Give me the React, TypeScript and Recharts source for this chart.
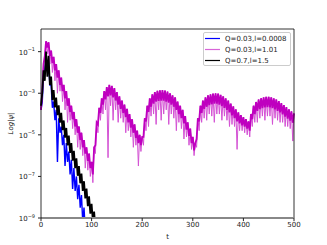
import { LineChart, Line, XAxis, YAxis, ReferenceLine } from 'recharts';

// values are log10(|psi|), sampled every STEP in t; "low" points sit half a step later
const STEP = 5;
const X_TICKS = [0, 100, 200, 300, 400, 500];
const Y_TICKS = [-9, -7, -5, -3, -1];
const Y_TOP = 0.09;

const magentaTop = [
  -3.8, -1.6, -0.5, -0.55, -0.95, -1.25, -1.6, -1.9, -2.25, -2.6,
  -2.9, -3.25, -3.6, -3.9, -4.25, -4.6, -4.9, -5.25, -5.6, -5.9,
  -6.3, -5.6, -4.4, -3.7, -3.25, -2.9, -2.7, -2.6, -2.65, -2.75,
  -2.95, -3.15, -3.35, -3.55, -3.75, -4.0, -4.25, -4.5, -4.8, -5.0,
  -5.1, -4.2, -3.6, -3.25, -3.05, -2.95, -2.88, -2.86, -2.85, -2.87,
  -2.92, -3.0, -3.1, -3.2, -3.4, -3.6, -3.8, -4.1, -4.4, -4.7,
  -5.1, -5.4, -4.2, -3.6, -3.35, -3.2, -3.1, -3.05, -3.02, -3.0,
  -3.02, -3.08, -3.15, -3.25, -3.35, -3.5, -3.63, -3.78, -3.92, -4.05,
  -4.15, -4.25, -4.35, -4.0, -3.6, -3.42, -3.3, -3.24, -3.2, -3.17,
  -3.17, -3.2, -3.25, -3.3, -3.38, -3.47, -3.57, -3.67, -3.77, -3.87,
  -3.97,
];
// lower edge of the solid magenta band
const magentaBand = [
  -2.9, -1.2, -0.8, -1.2, -1.55, -1.9, -2.25, -2.6, -2.9, -3.25,
  -3.6, -3.9, -4.25, -4.6, -4.9, -5.25, -5.6, -5.9, -6.25, -6.6,
  -6.9, -5.5, -4.5, -3.95, -3.55, -3.3, -3.15, -3.1, -3.2, -3.35,
  -3.55, -3.75, -3.95, -4.15, -4.4, -4.65, -4.9, -5.15, -5.4, -5.5,
  -5.1, -4.35, -3.9, -3.65, -3.5, -3.4, -3.37, -3.35, -3.35, -3.4,
  -3.45, -3.55, -3.65, -3.8, -4.0, -4.2, -4.45, -4.75, -5.05, -5.4,
  -5.75, -5.2, -4.35, -3.95, -3.75, -3.65, -3.57, -3.53, -3.5, -3.5,
  -3.55, -3.62, -3.7, -3.8, -3.92, -4.07, -4.2, -4.35, -4.45, -4.55,
  -4.6, -4.7, -4.8, -4.25, -4.0, -3.85, -3.77, -3.72, -3.68, -3.67,
  -3.68, -3.72, -3.78, -3.85, -3.92, -4.02, -4.12, -4.22, -4.32, -4.42,
];
// tips of the lighter downward spikes
const magentaSpike = [
  -3.0, -1.4, -1.1, -1.6, -2.0, -2.4, -3.0, -2.9, -3.4, -3.8,
  -4.4, -4.3, -4.7, -5.0, -5.6, -5.7, -6.0, -6.6, -6.7, -7.0,
  -7.3, -5.9, -4.9, -4.3, -4.0, -3.8, -6.1, -3.6, -4.3, -3.8,
  -4.4, -4.2, -4.4, -4.9, -4.8, -5.1, -5.6, -5.5, -6.5, -5.8,
  -5.5, -4.8, -4.6, -4.1, -4.0, -4.5, -3.8, -4.3, -4.0, -3.8,
  -4.5, -4.0, -4.2, -4.8, -4.4, -4.7, -5.2, -5.1, -5.5, -5.7,
  -6.0, -5.6, -4.8, -4.4, -4.2, -4.3, -4.0, -4.1, -4.4, -4.0,
  -4.0, -4.3, -4.1, -4.3, -4.6, -4.5, -4.6, -5.7, -4.8, -4.8,
  -4.9, -5.0, -5.1, -4.6, -4.4, -4.4, -4.2, -4.1, -4.3, -4.1,
  -4.1, -4.5, -4.2, -4.3, -4.4, -4.4, -4.6, -4.6, -4.7, -5.3,
];

const blackTop = [
  -3.6, -1.9, -1.0, -1.2, -2.2, -2.85, -3.21, -3.58, -3.94, -4.31,
  -4.67, -5.04, -5.4, -5.77, -6.13, -6.5, -6.86, -7.23, -7.59, -7.96,
  -8.32, -8.69, -9.05, -9.4,
];
const blackLow = [
  -3.0, -2.4, -2.2, -2.6, -3.32, -3.68, -4.05, -4.41, -4.78, -5.14,
  -5.51, -5.87, -6.24, -6.6, -6.97, -7.33, -7.7, -8.06, -8.43, -8.79,
  -9.16, -9.5, -9.6,
];

const blueTop = [
  -3.8, -2.1, -1.3, -1.5, -2.6, -3.4, -3.8, -4.2, -4.6, -5.0,
  -5.4, -5.8, -6.2, -6.6, -7.0, -7.4, -7.9, -8.5, -9.2,
];
const blueLow = [
  -3.4, -1.9, -1.7, -2.6, -3.7, -4.3, -6.3, -4.9, -5.5, -6.5,
  -6.3, -6.9, -7.6, -7.7, -8.1, -8.5, -9.2, -9.6,
];

const LEGEND = [
  { name: 'Q=0.03,l=0.0008', color: '#0000ff' },
  { name: 'Q=0.03,l=1.01', color: '#d865d8' },
  { name: 'Q=0.7,l=1.5', color: '#000000' },
];

// draw order follows matplotlib: blue, magenta (spikes then band), black on top
const LAYERS = [
  { key: 'blue', color: '#0000ff', width: 1.4, top: blueTop, low: blueLow },
  { key: 'magenta-spikes', color: '#d452d4', width: 1, top: magentaTop, low: magentaSpike },
  { key: 'magenta-band', color: '#bf00bf', width: 1.8, top: magentaTop, low: magentaBand },
  { key: 'black', color: '#000000', width: 1.8, top: blackTop, low: blackLow },
];

function zigzag(top: number[], low: number[]) {
  const pts: { t: number; v: number }[] = [];
  top.forEach((v, i) => {
    pts.push({ t: i * STEP, v });
    if (i < low.length) pts.push({ t: i * STEP + STEP / 2, v: low[i] });
  });
  return pts;
}

const FONT = 'DejaVu Sans, sans-serif';

function PowTick({ x, y, payload }: any) {
  return (
    <text x={x - 1} y={y + 3} textAnchor="end" fontSize={7} fill="#222" fontFamily={FONT}>
      10
      <tspan fontSize={5} dy={-3.5}>{'\u2212' + Math.abs(payload.value)}</tspan>
    </text>
  );
}

function YLabel({ viewBox }: any) {
  const cy = viewBox.y + viewBox.height / 2;
  const cx = viewBox.x + 11;
  return (
    <text
      x={cx}
      y={cy}
      transform={`rotate(-90 ${cx} ${cy})`}
      textAnchor="middle"
      dominantBaseline="central"
      fontSize={7}
      fontStyle="italic"
      fill="#222"
      fontFamily={FONT}
    >
      Log|ψ|
    </text>
  );
}

export default function App() {
  return (
    <div style={{ position: 'absolute', left: 0, top: 0, width: 327, height: 245, background: '#fff' }}>
      <LineChart width={327} height={245} margin={{ top: 29, right: 33, bottom: 0, left: 0 }}>
        <XAxis
          type="number"
          dataKey="t"
          domain={[0, 500]}
          ticks={X_TICKS}
          height={27}
          tickSize={3}
          tickMargin={1}
          tick={{ fontSize: 7, fill: '#222', fontFamily: FONT }}
          axisLine={{ stroke: '#888', strokeWidth: 2 }}
          tickLine={{ stroke: '#222' }}
          label={{ value: 't', position: 'insideBottom', offset: 6, fontSize: 7, fill: '#222', fontFamily: FONT }}
        />
        <YAxis
          type="number"
          domain={[-9, Y_TOP]}
          allowDataOverflow
          ticks={Y_TICKS}
          width={41}
          tickSize={3}
          tick={<PowTick />}
          axisLine={{ stroke: '#000', strokeWidth: 0.8 }}
          tickLine={{ stroke: '#222' }}
          label={<YLabel />}
        />
        {LAYERS.map(s => (
          <Line
            key={s.key}
            data={zigzag(s.top, s.low)}
            dataKey="v"
            stroke={s.color}
            strokeWidth={s.width}
            strokeLinejoin="miter"
            dot={false}
            isAnimationActive={false}
          />
        ))}
        <ReferenceLine y={Y_TOP} stroke="#000" strokeWidth={0.8} />
        <ReferenceLine x={500} stroke="#000" strokeWidth={0.8} />
      </LineChart>
      <div
        style={{
          position: 'absolute', left: 203, top: 32, width: 88, height: 34,
          border: '1px solid #ccc', borderRadius: 2, boxSizing: 'border-box',
          background: 'rgba(255,255,255,0.8)', fontFamily: FONT, fontSize: 7, color: '#222',
        }}
      >
        {LEGEND.map((s, i) => (
          <div
            key={s.name}
            style={{ position: 'absolute', left: 1, top: 1 + i * 11, height: 9, display: 'flex', alignItems: 'center', whiteSpace: 'nowrap' }}
          >
            <svg width={15} height={3}>
              <line x1={0} y1={1.5} x2={15} y2={1.5} stroke={s.color} strokeWidth={1.2} />
            </svg>
            <span style={{ marginLeft: 5 }}>{s.name}</span>
          </div>
        ))}
      </div>
    </div>
  );
}
